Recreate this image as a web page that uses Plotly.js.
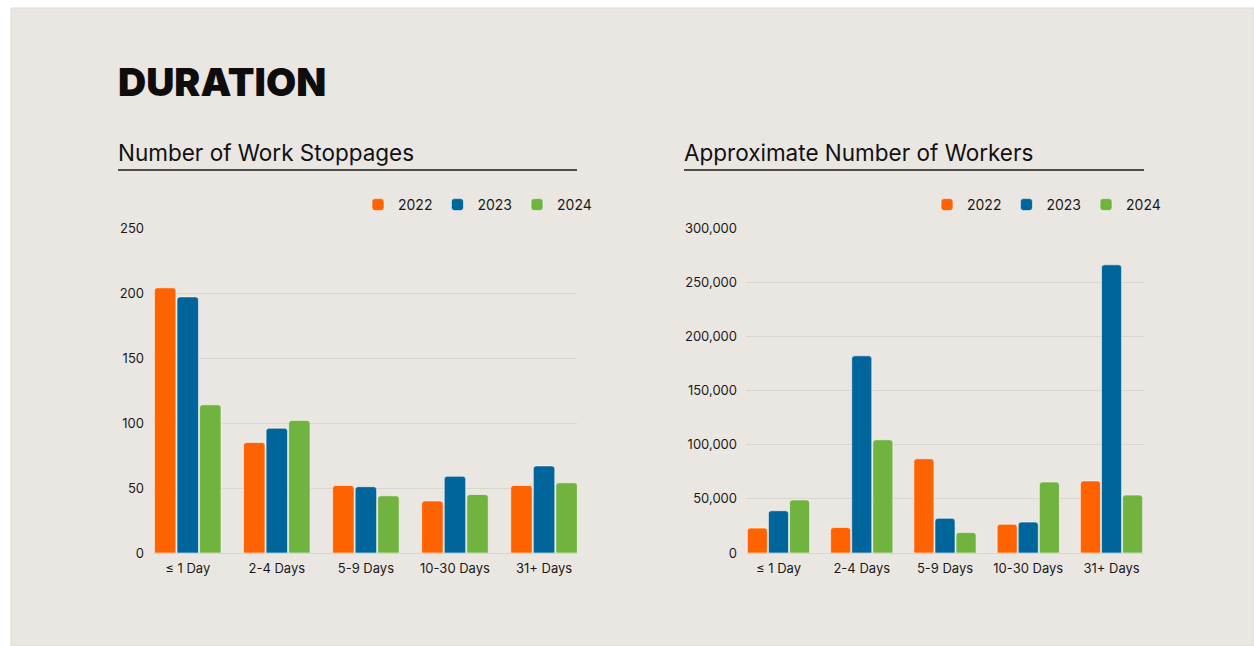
<!DOCTYPE html>
<html>
<head>
<meta charset="utf-8">
<script src="https://cdn.plot.ly/plotly-3.0.1.min.js"></script>
<style>
  html, body { margin: 0; padding: 0; background: #ffffff; }
  #chart { width: 1254px; height: 646px; }
</style>
</head>
<body>
<div id="chart"></div>
<script>
// ---- Data ----
const categories = ["≤ 1 Day", "2-4 Days", "5-9 Days", "10-30 Days", "31+ Days"];
const years = ["2022", "2023", "2024"];
const stoppages2022 = [204, 85, 52, 40, 52];
const stoppages2023 = [197, 96, 51, 59, 67];
const stoppages2024 = [114, 102, 44, 45, 54];
const workers2022 = [23000, 23500, 87000, 26500, 66500];
const workers2023 = [39000, 182000, 32000, 28500, 266000];
const workers2024 = [49000, 104500, 19000, 65500, 53500];
const mainTitle = "DURATION";
const leftTitle = "Number of Work Stoppages";
const rightTitle = "Approximate Number of Workers";

// ---- Styling ----
const colors = ["#FF6200", "#00659A", "#71B33F"];
const W = 1254, H = 646;
const px = x => x / W;
const py = y => 1 - y / H;
const FONT = "Inter, 'Noto Sans', sans-serif";

function barTrace(name, values, i, xa, ya, legendId) {
  return {
    type: "bar",
    name: name,
    x: categories,
    y: values,
    xaxis: xa,
    yaxis: ya,
    legend: legendId,
    marker: { color: colors[i], line: { color: "rgba(255,255,255,0.55)", width: 1 }, cornerradius: 3 },
    hoverinfo: "x+y+name"
  };
}

const data = [
  barTrace(years[0], stoppages2022, 0, "x", "y", "legend"),
  barTrace(years[1], stoppages2023, 1, "x", "y", "legend"),
  barTrace(years[2], stoppages2024, 2, "x", "y", "legend"),
  barTrace(years[0], workers2022, 0, "x2", "y2", "legend2"),
  barTrace(years[1], workers2023, 1, "x2", "y2", "legend2"),
  barTrace(years[2], workers2024, 2, "x2", "y2", "legend2")
];

const yDomain = [py(553), py(228)];
const gridColor = "#D9D6D1";

const commonX = {
  type: "category",
  showgrid: false,
  zeroline: false,
  showline: false,
  ticks: "",
  ticklabelstandoff: 6,
  tickfont: { family: FONT, size: 13, color: "#1a1a1a" },
  fixedrange: true
};
const commonY = {
  showgrid: true,
  gridcolor: gridColor,
  gridwidth: 1,
  zeroline: true,
  zerolinecolor: gridColor,
  zerolinewidth: 1,
  showline: false,
  ticks: "",
  ticklabelstandoff: 8,
  tickfont: { family: FONT, size: 13, color: "#1a1a1a" },
  domain: yDomain,
  fixedrange: true
};

const legendCommon = {
  orientation: "h",
  xanchor: "left",
  yanchor: "middle",
  y: py(205),
  bgcolor: "rgba(0,0,0,0)",
  font: { family: FONT, size: 14, color: "#1a1a1a" },
  itemclick: false,
  itemdoubleclick: false
};

const layout = {
  width: W,
  height: H,
  margin: { l: 0, r: 0, t: 0, b: 0 },
  paper_bgcolor: "#ffffff",
  plot_bgcolor: "rgba(0,0,0,0)",
  barmode: "group",
  bargap: 0.24,
  bargroupgap: 0.05,
  font: { family: FONT, color: "#1a1a1a" },
  xaxis: Object.assign({}, commonX, { domain: [px(153), px(577)], anchor: "y", range: [-0.39, 4.37] }),
  yaxis: Object.assign({}, commonY, { anchor: "x", range: [0, 250], tickvals: [0, 50, 100, 150, 200, 250] }),
  xaxis2: Object.assign({}, commonX, { domain: [px(746), px(1144)], anchor: "y2", range: [-0.39, 4.39] }),
  yaxis2: Object.assign({}, commonY, { anchor: "x2", range: [0, 300000], tickvals: [0, 50000, 100000, 150000, 200000, 250000, 300000], tickformat: ",d" }),
  legend: Object.assign({}, legendCommon, { x: px(358) }),
  legend2: Object.assign({}, legendCommon, { x: px(927) }),
  shapes: [
    { type: "rect", xref: "paper", yref: "paper", x0: px(11), x1: 1, y0: 0, y1: py(8),
      fillcolor: "#EAE7E2", line: { color: "#DEDBD6", width: 1 }, layer: "below" },
    { type: "line", xref: "paper", yref: "paper", x0: px(118), x1: px(577), y0: py(170), y1: py(170),
      line: { color: "#1a1a1a", width: 1.5 } },
    { type: "line", xref: "paper", yref: "paper", x0: px(684), x1: px(1144), y0: py(170), y1: py(170),
      line: { color: "#1a1a1a", width: 1.5 } }
  ],
  annotations: [
    { text: mainTitle, xref: "paper", yref: "paper", x: px(116), y: py(81), xanchor: "left", yanchor: "middle",
      showarrow: false, font: { family: FONT, size: 39, weight: 900, color: "#0d0d0d" } },
    { text: leftTitle, xref: "paper", yref: "paper", x: px(116), y: py(153), xanchor: "left", yanchor: "middle",
      showarrow: false, font: { family: FONT, size: 22.5, color: "#111" } },
    { text: rightTitle, xref: "paper", yref: "paper", x: px(682), y: py(153), xanchor: "left", yanchor: "middle",
      showarrow: false, font: { family: FONT, size: 22.5, color: "#111" } }
  ]
};

Plotly.newPlot("chart", data, layout, { displayModeBar: false, staticPlot: false });
</script>
</body>
</html>
